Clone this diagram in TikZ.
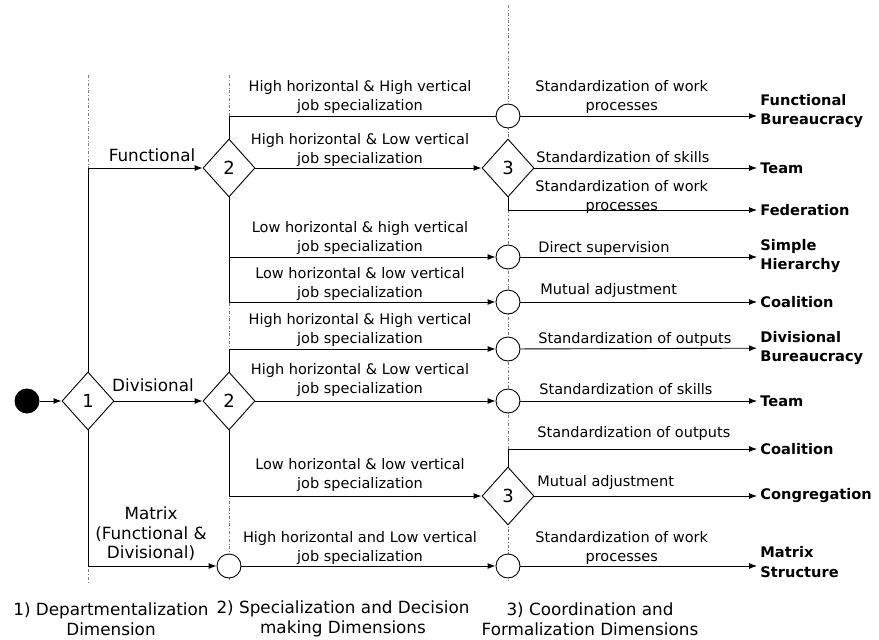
\documentclass[tikz,border=0pt]{standalone}
\usepackage{fontspec}
\setmainfont{DejaVu Sans}
\usetikzlibrary{shapes.geometric,arrows.meta}
\tikzset{
  dec/.style={draw, diamond, fill=white, minimum width=52pt, minimum height=58pt, inner sep=0pt, font=\fontsize{18}{18}\selectfont},
  merge/.style={draw, circle, fill=white, minimum size=24pt, inner sep=0pt},
  lbl/.style={align=center, inner sep=0pt, font=\fontsize{14.5}{19.5}\selectfont},
  biglbl/.style={lbl, font=\fontsize{16.8}{19.5}\selectfont},
  res/.style={anchor=west, align=left, inner sep=3pt, font=\fontsize{14.6}{19.5}\selectfont\bfseries},
  dimline/.style={gray, line width=0.6pt, dash pattern=on 3pt off 2pt on 0.6pt off 2pt},
}

\begin{document}
\begin{tikzpicture}[x=1pt, y=-1pt, >={Latex[length=8pt,width=6pt]}, line width=0.9pt]
		\useasboundingbox (0,0) rectangle (879,640);
		%dimension lines
		\draw[dimline] (88,75) -- (88,582);
		\draw[dimline] (229,75) -- (229,580);
		\draw[dimline] (508,5) -- (508,582);
		
		%decisions and merges
		\node[fill, circle, minimum size=25pt, inner sep=0pt] (start) at (27,401) {};
		\node[dec] (d1) at (88,401) {1};
		\node[dec] (d2f) at (229,168) {2};
		\node[dec] (d2d) at (229,401) {2};
		\node[merge] (c2m) at (229,566) {};
		\node[dec] (d3f) at (508,168) {3};
		\node[dec] (d3d) at (508,496) {3};
		\node[merge] (cfb) at (508,116) {};
		\node[merge] (csh) at (508,257) {};
		\node[merge] (cco) at (508,302) {};
		\node[merge] (cdb) at (508,349) {};
		\node[merge] (cte) at (508,401) {};
		\node[merge] (cms) at (508,566) {};
		
		%structures
		\node[res] (rfb) at (757,111) {Functional\\Bureaucracy};
		\node[res] (rteam1) at (757,168) {Team};
		\node[res] (rfed) at (757,210) {Federation};
		\node[res] (rsh) at (757,256) {Simple\\Hierarchy};
		\node[res] (rcoal1) at (757,302) {Coalition};
		\node[res] (rdb) at (757,348) {Divisional\\Bureaucracy};
		\node[res] (rteam2) at (757,401) {Team};
		\node[res] (rcoal2) at (757,449) {Coalition};
		\node[res] (rcong) at (757,496) {Congregation};
		\node[res] (rms) at (757,562) {Matrix\\Structure};
		
		%first step
		\draw[->] (start) -- (d1);
		\draw[->] (d1.north) |- (d2f);
		\draw[->] (d1) -- (d2d);
		\draw[->] (d1.south) |- (c2m);
		\node[biglbl] (lfun) at (152,155) {Functional};
		\node[biglbl] (ldiv) at (153,385) {Divisional};
		\node[biglbl] (lmat) at (151,534) {Matrix\\(Functional \&\\Divisional)};
		
		%second step
		\draw (d2f.north) |- (cfb);
		\draw[->] (d2f) -- (d3f);
		\draw[->] (d2f.south) |- (csh);
		\draw[->] (d2f.south) |- (cco);
		\draw[->] (d2d.north) |- (cdb);
		\draw[->] (d2d) -- (cte);
		\draw[->] (d2d.south) |- (d3d);
		\draw[->] (c2m) -- (cms);
		\node[lbl] (s1) at (360,97) {High horizontal \& High vertical\\job specialization};
		\node[lbl] (s2) at (360,150) {High horizontal \& Low vertical\\job specialization};
		\node[lbl] (s3) at (360,238) {Low horizontal \& high vertical\\job specialization};
		\node[lbl] (s4) at (360,284) {Low horizontal \& low vertical\\job specialization};
		\node[lbl] (s5) at (360,330) {High horizontal \& High vertical\\job specialization};
		\node[lbl] (s6) at (360,380) {High horizontal \& Low vertical\\job specialization};
		\node[lbl] (s7) at (360,475) {Low horizontal \& low vertical\\job specialization};
		\node[lbl] (s8) at (360,548) {High horizontal and Low vertical\\job specialization};
		
		%third step
		\draw[->] (cfb) -- (cfb -| rfb.west);
		\draw[->] (d3f) -- (rteam1);
		\draw[->] (d3f.south) |- (rfed.west);
		\draw[->] (csh) -- (csh -| rsh.west);
		\draw[->] (cco) -- (rcoal1);
		\draw[->] (cdb) -- (rdb);
		\draw[->] (cte) -- (rteam2);
		\draw[->] (d3d.north) |- (rcoal2.west);
		\draw[->] (d3d) -- (rcong);
		\draw[->] (cms) -- (cms -| rms.west);
		\node[lbl, anchor=west] (t1) at (535,97) {Standardization of work\\processes};
		\node[lbl, anchor=west] (t2) at (536,157) {Standardization of skills};
		\node[lbl, anchor=west] (t3) at (535,197) {Standardization of work\\processes};
		\node[lbl, anchor=west] (t4) at (538,248) {Direct supervision};
		\node[lbl, anchor=west] (t5) at (540,290) {Mutual adjustment};
		\node[lbl, anchor=west] (t6) at (538,339) {Standardization of outputs};
		\node[lbl, anchor=west] (t7) at (539,389) {Standardization of skills};
		\node[lbl, anchor=west] (t8) at (537,433) {Standardization of outputs};
		\node[lbl, anchor=west] (t9) at (537,482) {Mutual adjustment};
		\node[lbl, anchor=west] (t10) at (535,548) {Standardization of work\\processes};
		
		%dimensions
		\node[biglbl] (b1) at (111,619) {1) Departmentalization\\Dimension};
		\node[biglbl] (b2) at (343,619) {2) Specialization and Decision\\making Dimensions};
		\node[biglbl] (b3) at (590,619) {3) Coordination and\\Formalization Dimensions};
\end{tikzpicture}
\end{document}
